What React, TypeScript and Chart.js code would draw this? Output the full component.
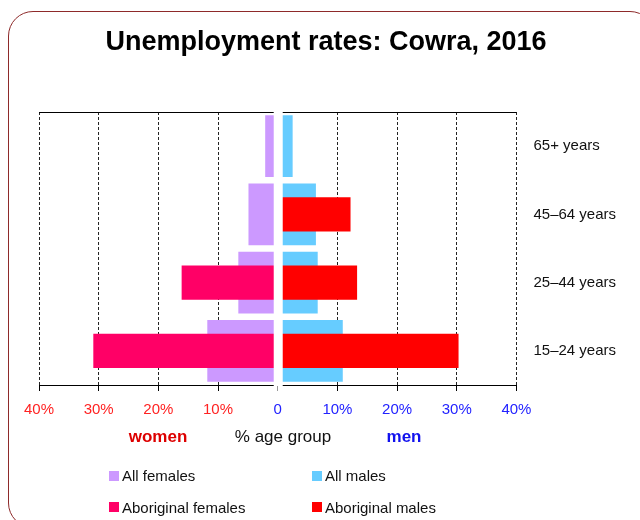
import React, { useEffect, useRef } from "react";
import { Chart, registerables } from "chart.js";

Chart.register(...registerables);

const ageGroups = ["65+ years", "45–64 years", "25–44 years", "15–24 years"];
const allFemales = [2.1, 4.9, 6.6, 11.8];
const aboriginalFemales = [null, null, 16.1, 30.9];
const allMales = [2.5, 6.4, 6.7, 10.9];
const aboriginalMales = [null, 12.2, 13.3, 30.3];
const axisMin = -40;
const axisMax = 40;
const axisStep = 10;

const FONT = "'Liberation Sans', Arial, Helvetica, sans-serif";
const C_ALL_F = "#CC99FF";
const C_ABOR_F = "#FF0066";
const C_ALL_M = "#66CCFF";
const C_ABOR_M = "#FF0000";

export default function App() {
  const ref = useRef<HTMLCanvasElement>(null);

  useEffect(() => {
    const neg = (a: (number | null)[]) => a.map((v) => (v == null ? null : -v));
    const gapPlugin = {
      id: "centerGap",
      afterDatasetsDraw(chart: any) {
        const { ctx, chartArea } = chart;
        const { left, right, top, bottom } = chartArea;
        const x0 = chart.scales.x.getPixelForValue(0);
        ctx.save();
        ctx.strokeStyle = "#000";
        ctx.lineWidth = 1;
        ctx.beginPath();
        const ty = Math.round(top) + 0.5;
        ctx.moveTo(left, ty);
        ctx.lineTo(right, ty);
        ctx.stroke();
        ctx.fillStyle = "#fff";
        ctx.fillRect(x0 - 4, top - 2, 9, bottom - top + 3);
        ctx.restore();
      },
    };
    const chart = new Chart(ref.current as HTMLCanvasElement, {
      type: "bar",
      data: {
        labels: ageGroups,
        datasets: [
          {
            label: "Aboriginal females",
            data: neg(aboriginalFemales),
            backgroundColor: C_ABOR_F,
            grouped: false,
            barPercentage: 0.5,
            categoryPercentage: 1,
            order: 0,
          },
          {
            label: "Aboriginal males",
            data: aboriginalMales,
            backgroundColor: C_ABOR_M,
            grouped: false,
            barPercentage: 0.5,
            categoryPercentage: 1,
            order: 0,
          },
          {
            label: "All females",
            data: neg(allFemales),
            backgroundColor: C_ALL_F,
            grouped: false,
            barPercentage: 0.905,
            categoryPercentage: 1,
            order: 1,
          },
          {
            label: "All males",
            data: allMales,
            backgroundColor: C_ALL_M,
            grouped: false,
            barPercentage: 0.905,
            categoryPercentage: 1,
            order: 1,
          },
        ] as any,
      },
      options: {
        indexAxis: "y",
        responsive: false,
        animation: false,
        layout: { padding: { left: 39, right: 7, top: 112, bottom: 91 } },
        plugins: {
          legend: { display: false },
          tooltip: { enabled: false },
          title: { display: false },
        },
        scales: {
          x: {
            type: "linear",
            min: axisMin,
            max: axisMax,
            ticks: {
              stepSize: axisStep,
              autoSkip: false,
              maxRotation: 0,
              padding: 10,
              color: (c: any) => (c.tick && c.tick.value < 0 ? "#ff2222" : "#2222ff"),
              font: { family: FONT, size: 15 },
              callback: (v: any) => (Number(v) === 0 ? "0" : Math.abs(Number(v)) + "%"),
            },
            grid: {
              color: (c: any) => (c.tick && c.tick.value === 0 ? "rgba(0,0,0,0)" : "#222"),
              tickColor: (c: any) => (c.tick && c.tick.value === 0 ? "#999" : "#000"),
              tickLength: 6,
              lineWidth: 1,
            },
            border: { display: true, color: "#000", dash: [3, 2] },
          },
          y: {
            position: "right",
            grid: { display: false, drawTicks: false },
            border: { display: false },
            ticks: { color: "#111", padding: 17, font: { family: FONT, size: 15 } },
          },
        },
      } as any,
      plugins: [gapPlugin],
    });
    return () => chart.destroy();
  }, []);

  const abs: React.CSSProperties = { position: "absolute", whiteSpace: "nowrap" };
  const sq = (left: number, top: number, color: string) => (
    <div style={{ ...abs, left, top, width: 10, height: 10, background: color }} />
  );
  const txt = (left: number, top: number, s: string) => (
    <div style={{ ...abs, left, top, fontSize: 15, lineHeight: "18px", color: "#111" }}>{s}</div>
  );

  return (
    <div
      style={{
        position: "fixed",
        left: 0,
        top: 0,
        width: 640,
        height: 520,
        overflow: "hidden",
        background: "#fff",
        fontFamily: FONT,
      }}
    >
      <div
        style={{
          position: "absolute",
          left: 8,
          top: 11,
          width: 645,
          height: 515,
          border: "1px solid #8e2a2a",
          borderRadius: 25,
        }}
      />
      <canvas ref={ref} width={640} height={520} style={{ position: "absolute", left: 0, top: 0 }} />
      <div
        style={{
          ...abs,
          left: 26,
          width: 600,
          top: 28,
          textAlign: "center",
          fontSize: 27,
          lineHeight: "27px",
          fontWeight: "bold",
          color: "#000",
        }}
      >
        Unemployment rates: Cowra, 2016
      </div>
      <div style={{ ...abs, left: 98, width: 120, top: 427, textAlign: "center", fontSize: 17, lineHeight: "20px", fontWeight: "bold", color: "#dd0000" }}>
        women
      </div>
      <div style={{ ...abs, left: 203, width: 160, top: 427, textAlign: "center", fontSize: 17, lineHeight: "20px", color: "#111" }}>
        % age group
      </div>
      <div style={{ ...abs, left: 344, width: 120, top: 427, textAlign: "center", fontSize: 17, lineHeight: "20px", fontWeight: "bold", color: "#1111ee" }}>
        men
      </div>
      {sq(109, 471, C_ALL_F)}
      {txt(122, 467, "All females")}
      {sq(312, 471, C_ALL_M)}
      {txt(325, 467, "All males")}
      {sq(109, 502, C_ABOR_F)}
      {txt(122, 499, "Aboriginal females")}
      {sq(312, 502, C_ABOR_M)}
      {txt(325, 499, "Aboriginal males")}
    </div>
  );
}
